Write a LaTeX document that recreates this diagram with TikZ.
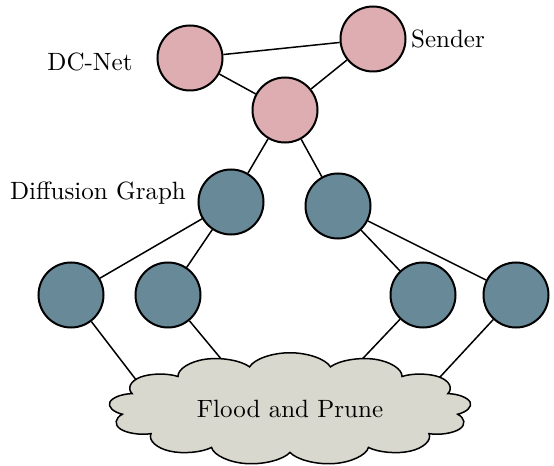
\documentclass[tikz,border=0pt]{standalone}
\usetikzlibrary{shapes.symbols}
\definecolor{dcpink}{RGB}{222,173,177}
\definecolor{diffblue}{RGB}{103,137,152}
\definecolor{cloudgrey}{RGB}{216,216,206}
\begin{document}
\begin{tikzpicture}[x=0.4pt,y=-0.4pt,
  dcnode/.style={circle,draw,line width=0.8pt,fill=dcpink,minimum size=26pt,inner sep=0pt},
  dgnode/.style={circle,draw,line width=0.8pt,fill=diffblue,minimum size=26pt,inner sep=0pt},
  link/.style={draw,line width=0.6pt},
  lbl/.style={inner sep=0pt}]
\useasboundingbox (0,0) rectangle (554,466);
% coordinates for cloud ends
\coordinate (c1) at (150,398);
\coordinate (c2) at (232,372);
\coordinate (c3) at (350,372);
\coordinate (c4) at (428,390);
\node[dcnode] (dc1) at (190,58) {};
\node[dcnode] (snd) at (373,39) {};
\node[dcnode] (dc2) at (285,110) {};
\node[dgnode] (d1) at (231,202) {};
\node[dgnode] (d2) at (338,206) {};
\node[dgnode] (b1) at (71,295) {};
\node[dgnode] (b2) at (168,295) {};
\node[dgnode] (b3) at (423,295) {};
\node[dgnode] (b4) at (516,295) {};
\draw[link] (dc1) -- (snd);
\draw[link] (dc1) -- (dc2);
\draw[link] (snd) -- (dc2);
\draw[link] (dc2) -- (d1);
\draw[link] (dc2) -- (d2);
\draw[link] (d1) -- (b1);
\draw[link] (d1) -- (b2);
\draw[link] (d2) -- (b3);
\draw[link] (d2) -- (b4);
\draw[link] (b1) -- (c1);
\draw[link] (b2) -- (c2);
\draw[link] (b3) -- (c3);
\draw[link] (b4) -- (c4);
\node[cloud,draw,line width=0.6pt,fill=cloudgrey,cloud puffs=13,cloud puff arc=150,aspect=1.3,minimum width=66pt,minimum height=45pt,inner sep=0pt,xscale=2.2] (cl) at (290,409) {};
\node[lbl] (clt) at (cl.center) {Flood and Prune};
\node[lbl] (l1) at (90,62) {DC-Net};
\node[lbl] (l2) at (448,39) {Sender};
\node[lbl] (l3) at (98,193) {Diffusion Graph};
\end{tikzpicture}
\end{document}
